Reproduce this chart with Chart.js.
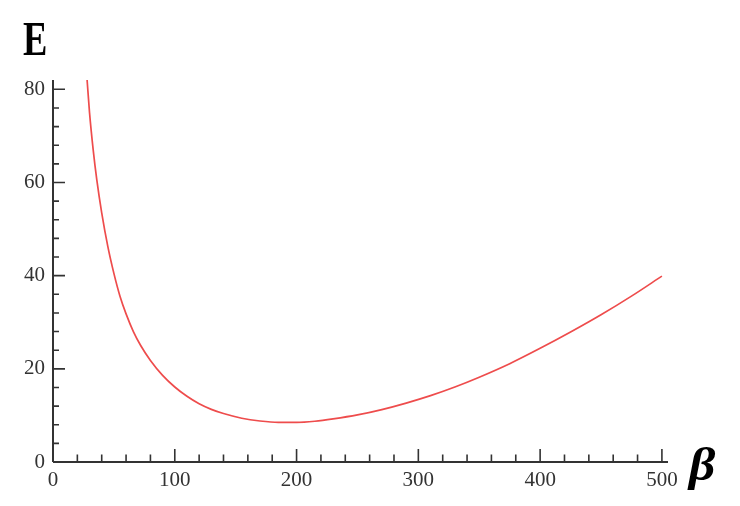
<!DOCTYPE html>
<html>
<head>
<meta charset="utf-8">
<script src="https://cdn.jsdelivr.net/npm/chart.js@4/dist/chart.umd.min.js"></script>
<style>
  html, body { margin: 0; padding: 0; background: #ffffff; }
  #wrap { position: relative; width: 740px; height: 506px; overflow: hidden; }
  #c { position: absolute; left: 0; top: 0; }
  .lbl { position: absolute; font-family: "Liberation Serif", "DejaVu Serif", serif; color: #000; white-space: nowrap; line-height: 1; }
  #ylab { left: 23px; top: 15px; font-size: 48px; font-weight: bold; transform: scaleX(0.76); transform-origin: left top; }
  #xlab { left: 689px; top: 442px; font-size: 46px; font-weight: bold; font-style: italic; transform: scaleX(1.12); transform-origin: left top; }
</style>
</head>
<body>
<div id="wrap">
  <canvas id="c" width="740" height="506"></canvas>
  <div class="lbl" id="ylab">E</div>
  <div class="lbl" id="xlab">β</div>
</div>
<script>
// ---- data ----
const betaValues = [28, 30, 33, 36, 40, 45, 50, 55, 60, 66, 72, 80, 90, 100, 110, 120, 130, 140, 155, 170, 185, 200, 215, 230, 250, 270, 290, 310, 330, 350, 375, 400, 425, 450, 475, 500];
const energyValues = [82.0, 75.0, 67.0, 60.5, 53.5, 46.3, 40.5, 35.6, 31.8, 28.0, 25.0, 21.8, 18.6, 16.1, 14.1, 12.5, 11.3, 10.4, 9.4, 8.8, 8.5, 8.5, 8.75, 9.25, 10.1, 11.25, 12.65, 14.25, 16.1, 18.2, 21.1, 24.4, 27.9, 31.6, 35.6, 39.9];

// tick values
const xLabelTicks = [0, 100, 200, 300, 400, 500];
const yLabelTicks = [0, 20, 40, 60, 80];
const xMinorTicks = [20, 40, 60, 80, 120, 140, 160, 180, 220, 240, 260, 280, 320, 340, 360, 380, 420, 440, 460, 480];
const xMajorTicks = [100, 200, 300, 400, 500];
const yMinorTicks = [4, 8, 12, 16, 24, 28, 32, 36, 44, 48, 52, 56, 64, 68, 72, 76];
const yMajorTicks = [20, 40, 60, 80];

const points = betaValues.map((b, i) => ({ x: b, y: energyValues[i] }));

const axisColor = '#333333';

const mathAxes = {
  id: 'mathAxes',
  afterDatasetsDraw(chart) {
    const ctx = chart.ctx;
    const xs = chart.scales.x, ys = chart.scales.y;
    const x0 = xs.getPixelForValue(0);
    const y0 = ys.getPixelForValue(0);
    ctx.save();
    ctx.strokeStyle = axisColor;
    ctx.lineCap = 'butt';
    ctx.lineWidth = 2;
    ctx.beginPath();
    ctx.moveTo(x0, y0);
    ctx.lineTo(xs.right, y0);
    ctx.moveTo(x0, y0);
    ctx.lineTo(x0, ys.top);
    ctx.stroke();
    ctx.lineWidth = 1.6;
    ctx.beginPath();
    xMinorTicks.forEach(v => { const p = xs.getPixelForValue(v); ctx.moveTo(p, y0); ctx.lineTo(p, y0 - 7.5); });
    xMajorTicks.forEach(v => { const p = xs.getPixelForValue(v); ctx.moveTo(p, y0); ctx.lineTo(p, y0 - 13); });
    yMinorTicks.forEach(v => { const p = ys.getPixelForValue(v); ctx.moveTo(x0, p); ctx.lineTo(x0 + 6, p); });
    yMajorTicks.forEach(v => { const p = ys.getPixelForValue(v); ctx.moveTo(x0, p); ctx.lineTo(x0 + 12, p); });
    ctx.stroke();
    ctx.restore();
  }
};

const tickFont = { family: '"Liberation Serif", "DejaVu Serif", serif', size: 21 };

new Chart(document.getElementById('c'), {
  type: 'line',
  data: {
    datasets: [{
      data: points,
      borderColor: 'rgb(238, 76, 76)',
      borderWidth: 1.7,
      pointRadius: 0,
      fill: false,
      cubicInterpolationMode: 'monotone'
    }]
  },
  options: {
    responsive: false,
    animation: false,
    events: [],
    layout: { padding: { top: 80, right: 72, left: 0, bottom: 0 } },
    plugins: { legend: { display: false }, tooltip: { enabled: false }, title: { display: false } },
    scales: {
      x: {
        type: 'linear',
        min: 0,
        max: 505,
        grid: { display: false, drawTicks: false },
        border: { display: false },
        afterBuildTicks(scale) { scale.ticks = xLabelTicks.map(v => ({ value: v })); },
        afterFit(scale) { scale.height = 44; },
        ticks: { font: tickFont, color: axisColor, padding: 6, maxRotation: 0, autoSkip: false }
      },
      y: {
        type: 'linear',
        min: 0,
        max: 82,
        grid: { display: false, drawTicks: false },
        border: { display: false },
        afterBuildTicks(scale) { scale.ticks = yLabelTicks.map(v => ({ value: v })); },
        afterFit(scale) { scale.width = 53; },
        ticks: { font: tickFont, color: axisColor, padding: 8, autoSkip: false }
      }
    }
  },
  plugins: [mathAxes]
});
</script>
</body>
</html>
